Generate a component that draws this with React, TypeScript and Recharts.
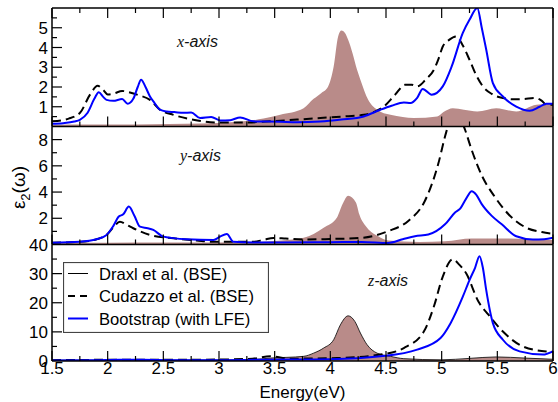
import React from "react";
import { ComposedChart, Area, Line, XAxis, YAxis, Legend } from "recharts";

type Pt = [number, number];

const WIDTH = 558;
const HEIGHT = 402;
const PLOT_RIGHT = 553;
const FONT = "'Liberation Sans', Arial, sans-serif";
const BROWN = "#b98b89";
const BLUE = "#0000ff";

const energyMajor = [1.5, 2, 2.5, 3, 3.5, 4, 4.5, 5, 5.5, 6];
const energyMinor = [1.75, 2.25, 2.75, 3.25, 3.75, 4.25, 4.75, 5.25, 5.75];

// x polarization
const draxlX: Pt[] = [
  [1.5, 0.08], [1.8, 0.1], [2.1, 0.1], [2.4, 0.12], [2.7, 0.14], [3.0, 0.18],
  [3.2, 0.25], [3.4, 0.4], [3.55, 0.6], [3.76, 0.93], [3.85, 1.4], [3.92, 1.7],
  [3.98, 2.03], [4.03, 3.04], [4.07, 4.56], [4.1, 4.86], [4.13, 4.75], [4.16, 4.39],
  [4.2, 3.7], [4.24, 2.87], [4.27, 2.37], [4.34, 1.35], [4.42, 0.85], [4.54, 0.59],
  [4.65, 0.48], [4.75, 0.43], [4.96, 0.51], [5.02, 0.75], [5.1, 0.93], [5.2, 0.85],
  [5.32, 0.76], [5.49, 0.93], [5.67, 0.76], [5.85, 1.1], [6.0, 1.15],
];
const cudazzoX: Pt[] = [
  [1.5, 0.26], [1.65, 0.4], [1.75, 0.68], [1.84, 1.6], [1.91, 2.06], [1.96, 1.85],
  [2.0, 1.62], [2.06, 1.68], [2.13, 1.8], [2.2, 1.72], [2.27, 1.6], [2.38, 1.35],
  [2.47, 0.85], [2.59, 0.59], [2.77, 0.34], [2.98, 0.2], [3.2, 0.2], [3.46, 0.26],
  [3.7, 0.35], [3.91, 0.43], [4.1, 0.5], [4.3, 0.59], [4.4, 0.75], [4.48, 1.01],
  [4.58, 1.6], [4.67, 2.11], [4.73, 2.12], [4.78, 2.03], [4.86, 2.4], [4.93, 2.87],
  [4.97, 3.4], [5.01, 4.05], [5.07, 4.4], [5.13, 4.56], [5.19, 4.1], [5.25, 3.38],
  [5.31, 2.6], [5.37, 2.03], [5.45, 1.65], [5.55, 1.44], [5.65, 1.38], [5.73, 1.39],
  [5.84, 1.44], [5.9, 1.3], [5.94, 1.1], [6.0, 1.1],
];
const bootX: Pt[] = [
  [1.5, 0.14], [1.6, 0.17], [1.7, 0.25], [1.75, 0.34], [1.82, 0.7], [1.88, 1.4],
  [1.92, 1.74], [1.96, 1.5], [1.99, 1.35], [2.05, 1.3], [2.13, 1.39], [2.18, 1.15],
  [2.23, 1.4], [2.27, 2.0], [2.3, 2.37], [2.34, 2.0], [2.38, 1.52], [2.42, 1.2],
  [2.47, 0.85], [2.53, 0.76], [2.6, 0.73], [2.68, 0.69], [2.75, 0.71], [2.83, 0.43],
  [2.93, 0.48], [3.01, 0.31], [3.1, 0.32], [3.19, 0.46], [3.31, 0.26], [3.55, 0.24],
  [3.7, 0.22], [3.91, 0.25], [4.1, 0.35], [4.3, 0.51], [4.45, 0.85], [4.55, 1.05],
  [4.66, 1.22], [4.72, 1.19], [4.78, 1.45], [4.83, 1.9], [4.91, 1.61], [5.01, 2.03],
  [5.09, 3.04], [5.19, 4.74], [5.25, 5.4], [5.32, 6.0], [5.36, 5.0], [5.4, 3.9],
  [5.46, 2.2], [5.55, 1.52], [5.67, 1.01], [5.79, 0.8], [5.88, 1.0], [5.94, 1.15],
  [6.0, 1.15],
];

// y polarization
const draxlY: Pt[] = [
  [1.5, 0.12], [2.0, 0.14], [2.5, 0.15], [3.0, 0.15], [3.46, 0.25], [3.76, 0.51],
  [3.94, 1.28], [4.06, 2.06], [4.11, 3.08], [4.16, 3.72], [4.23, 3.21], [4.26, 2.31],
  [4.33, 1.28], [4.43, 0.63], [4.52, 0.3], [4.8, 0.2], [5.03, 0.25], [5.27, 0.46],
  [5.52, 0.46], [5.8, 0.4], [6.0, 0.35],
];
const cudazzoY: Pt[] = [
  [1.5, 0.14], [1.75, 0.2], [1.9, 0.4], [1.99, 0.73], [2.05, 1.3], [2.11, 1.74],
  [2.17, 1.5], [2.23, 1.24], [2.38, 0.73], [2.59, 0.47], [2.8, 0.3], [2.95, 0.21],
  [3.31, 0.21], [3.4, 0.35], [3.49, 0.5], [3.6, 0.45], [3.76, 0.38], [4.0, 0.42],
  [4.28, 0.51], [4.52, 1.02], [4.7, 1.8], [4.85, 3.34], [4.97, 6.17], [5.03, 8.23],
  [5.08, 9.6], [5.13, 10.0], [5.17, 9.6], [5.21, 8.75], [5.27, 7.2], [5.36, 5.27],
  [5.48, 3.6], [5.6, 2.31], [5.76, 1.28], [5.9, 0.95], [6.0, 0.82],
];
const bootY: Pt[] = [
  [1.5, 0.14], [1.75, 0.21], [1.9, 0.4], [1.99, 0.73], [2.05, 1.4], [2.1, 2.13],
  [2.14, 2.3], [2.19, 2.89], [2.24, 2.2], [2.29, 1.36], [2.36, 1.24], [2.41, 1.11],
  [2.5, 0.6], [2.71, 0.4], [2.95, 0.35], [3.01, 0.6], [3.07, 0.8], [3.13, 0.21],
  [3.3, 0.15], [3.55, 0.15], [4.0, 0.18], [4.28, 0.2], [4.52, 0.12], [4.65, 0.4],
  [4.76, 0.63], [4.88, 0.76], [5.03, 1.54], [5.12, 2.44], [5.17, 2.78], [5.22, 3.5],
  [5.27, 4.06], [5.31, 3.8], [5.36, 3.08], [5.45, 2.18], [5.54, 1.54], [5.67, 0.63],
  [5.82, 0.38], [5.92, 0.4], [6.0, 0.51],
];

// z polarization
const draxlZ: Pt[] = [
  [1.5, 0.3], [2.0, 0.3], [2.5, 0.3], [3.0, 0.35], [3.3, 0.5], [3.46, 1.0],
  [3.76, 1.6], [3.85, 2.7], [3.94, 4.45], [4.03, 7.3], [4.09, 12.4], [4.16, 15.5],
  [4.22, 13.6], [4.27, 9.6], [4.33, 5.6], [4.42, 2.7], [4.54, 1.6], [4.66, 0.8],
  [5.0, 0.4], [5.25, 0.9], [5.49, 1.4], [5.75, 1.0], [6.0, 0.6],
];
const cudazzoZ: Pt[] = [
  [1.5, 0.3], [2.0, 0.4], [2.5, 0.4], [3.0, 0.5], [3.3, 0.8], [3.46, 1.6],
  [3.64, 0.8], [4.06, 1.0], [4.45, 2.2], [4.66, 4.45], [4.84, 10.1], [4.93, 18.7],
  [5.01, 29], [5.1, 34.9], [5.16, 33], [5.22, 30.1], [5.33, 20.4], [5.42, 15.9],
  [5.55, 10.1], [5.73, 5.0], [5.94, 3.3], [6.0, 3.2],
];
const bootZ: Pt[] = [
  [1.5, 0.2], [1.9, 0.3], [2.1, 0.45], [2.3, 0.45], [2.6, 0.3], [3.0, 0.3],
  [3.4, 0.45], [3.7, 0.5], [4.0, 0.6], [4.45, 1.6], [4.78, 3.9], [4.99, 7.9],
  [5.08, 13], [5.19, 22.1], [5.25, 27.8], [5.3, 32], [5.34, 36], [5.37, 32],
  [5.4, 24.4], [5.46, 13], [5.55, 7.3], [5.7, 3.3], [5.91, 2.2], [6.0, 3.3],
];

const NAMES = ["Draxl et al. (BSE)", "Cudazzo et al. (BSE)", "Bootstrap (with LFE)"];
const legendStyle: Record<string, { stroke: string; width: number; dash?: string }> = {
  [NAMES[0]]: { stroke: "#000", width: 1 },
  [NAMES[1]]: { stroke: "#000", width: 2, dash: "7 5" },
  [NAMES[2]]: { stroke: BLUE, width: 2 },
};

const rows = (pts: Pt[]) => pts.map(([e, v]) => ({ e, v }));
const noLabel = () => <g />;

const FRAME = { stroke: "#000", strokeWidth: 1.5 };
const TICK = { stroke: "#000", strokeWidth: 1.2 };
const LABEL = { fill: "#000", fontSize: 17, fontFamily: FONT };

function LegendBox({ payload }: any) {
  const items = [...(payload || [])].sort(
    (a: any, b: any) => NAMES.indexOf(a.value) - NAMES.indexOf(b.value)
  );
  return (
    <svg width={206} height={71} style={{ display: "block" }}>
      <rect x={0.5} y={0.5} width={205} height={70} fill="#fff" stroke="#444" strokeWidth={1.2} />
      {items.map((it: any, i: number) => {
        const s = legendStyle[it.value] || { stroke: "#000", width: 1 };
        const y = 11.5 + i * 22.5;
        return (
          <g key={it.value}>
            <line x1={5} x2={25} y1={y} y2={y} stroke={s.stroke} strokeWidth={s.width} strokeDasharray={s.dash} />
            <text x={36} y={y + 6} fontSize={16.6} fontFamily={FONT} fill="#000">
              {it.value}
            </text>
          </g>
        );
      })}
    </svg>
  );
}

interface PanelProps {
  top: number;
  bottom: number;
  yMax: number;
  yMajor: number[];
  yMinor: number[];
  yLabels: number[];
  draxl: Pt[];
  cudazzo: Pt[];
  boot: Pt[];
  outline?: boolean;
  topTicks?: boolean;
  energyLabels?: boolean;
  legend?: boolean;
}

function Panel(p: PanelProps) {
  const labelH = p.energyLabels ? HEIGHT - p.bottom : 0;
  const xDomain: [number, number] = [1.5, 6];
  const yDomain: [number, number] = [0, p.yMax];

  const xTickAxes = [
    { id: "e", orientation: "bottom", ticks: energyMajor, size: 10, line: true },
    { id: "eMinor", orientation: "bottom", ticks: energyMinor, size: 5, line: false },
  ];
  if (p.topTicks) {
    xTickAxes.push(
      { id: "eTop", orientation: "top", ticks: energyMajor, size: 10, line: true },
      { id: "eTopMinor", orientation: "top", ticks: energyMinor, size: 5, line: false }
    );
  }
  const yTickAxes = [
    { id: "v", orientation: "left", ticks: p.yMajor, size: 10, line: true, tickLine: true },
    { id: "vMinor", orientation: "left", ticks: p.yMinor, size: 5, line: false, tickLine: true },
    { id: "vRight", orientation: "right", ticks: p.yMajor, size: 0, line: true, tickLine: false },
  ];

  return (
    <div style={{ position: "absolute", left: 0, top: 0 }}>
      <ComposedChart
        width={WIDTH}
        height={HEIGHT}
        margin={{ top: p.top, right: WIDTH - PLOT_RIGHT, bottom: HEIGHT - p.bottom - labelH, left: 0 }}
      >
        {xTickAxes.map((a) => (
          <XAxis
            key={a.id}
            xAxisId={a.id}
            type="number"
            dataKey="e"
            domain={xDomain}
            allowDataOverflow
            orientation={a.orientation as "top" | "bottom"}
            mirror
            height={0.01}
            ticks={a.ticks}
            interval={0}
            tick={noLabel}
            tickSize={a.size}
            tickLine={TICK}
            axisLine={a.line ? FRAME : false}
            stroke="#000"
          />
        ))}
        {p.energyLabels && (
          <XAxis
            xAxisId="eLabel"
            type="number"
            dataKey="e"
            domain={xDomain}
            allowDataOverflow
            orientation="bottom"
            height={labelH}
            ticks={energyMajor}
            interval={0}
            tick={LABEL}
            tickSize={0}
            tickMargin={1}
            tickLine={false}
            axisLine={false}
            label={{ value: "Energy(eV)", position: "insideBottom", offset: 4, fill: "#000", fontSize: 17, fontFamily: FONT }}
          />
        )}
        {yTickAxes.map((a) => (
          <YAxis
            key={a.id}
            yAxisId={a.id}
            type="number"
            domain={yDomain}
            allowDataOverflow
            orientation={a.orientation as "left" | "right"}
            mirror
            width={0.01}
            ticks={a.ticks}
            interval={0}
            tick={noLabel}
            tickSize={a.size}
            tickLine={a.tickLine ? TICK : false}
            axisLine={a.line ? FRAME : false}
            stroke="#000"
          />
        ))}
        <YAxis
          yAxisId="vLabel"
          type="number"
          domain={yDomain}
          allowDataOverflow
          orientation="left"
          width={52}
          ticks={p.yLabels}
          interval={0}
          tick={LABEL}
          tickSize={0}
          tickMargin={4}
          tickLine={false}
          axisLine={false}
        />
        <Area
          xAxisId="e"
          yAxisId="v"
          data={rows(p.draxl)}
          dataKey="v"
          name={NAMES[0]}
          type="monotone"
          fill={BROWN}
          fillOpacity={1}
          stroke={p.outline ? "#000" : "none"}
          strokeWidth={0.8}
          dot={false}
          activeDot={false}
          isAnimationActive={false}
        />
        <Line
          xAxisId="e"
          yAxisId="v"
          data={rows(p.cudazzo)}
          dataKey="v"
          name={NAMES[1]}
          type="monotone"
          stroke="#000"
          strokeWidth={2}
          strokeDasharray="9 5"
          dot={false}
          activeDot={false}
          isAnimationActive={false}
        />
        <Line
          xAxisId="e"
          yAxisId="v"
          data={rows(p.boot)}
          dataKey="v"
          name={NAMES[2]}
          type="monotone"
          stroke={BLUE}
          strokeWidth={2}
          dot={false}
          activeDot={false}
          isAnimationActive={false}
        />
        {p.legend && (
          <Legend
            layout="vertical"
            align="center"
            verticalAlign="middle"
            content={<LegendBox />}
            wrapperStyle={{ left: 63, top: 262, width: 206, height: 71 }}
          />
        )}
      </ComposedChart>
    </div>
  );
}

function AxisTag({ x, y, letter }: { x: number; y: number; letter: string }) {
  return (
    <text x={x} y={y} fontSize={16} fill="#111">
      <tspan fontFamily="'Liberation Serif', serif" fontStyle="italic">{letter}</tspan>
      <tspan fontFamily={FONT} fontStyle="italic">-axis</tspan>
    </text>
  );
}

export default function App() {
  return (
    <div style={{ position: "absolute", left: 0, top: 0, width: WIDTH, height: HEIGHT, background: "#fff" }}>
      <Panel
        top={8}
        bottom={126.5}
        yMax={6}
        yMajor={[1, 2, 3, 4, 5]}
        yMinor={[0.5, 1.5, 2.5, 3.5, 4.5, 5.5]}
        yLabels={[1, 2, 3, 4, 5]}
        draxl={draxlX}
        cudazzo={cudazzoX}
        boot={bootX}
        topTicks
      />
      <Panel
        top={126.5}
        bottom={244.5}
        yMax={9}
        yMajor={[2, 4, 6, 8]}
        yMinor={[1, 3, 5, 7]}
        yLabels={[2, 4, 6, 8]}
        draxl={draxlY}
        cudazzo={cudazzoY}
        boot={bootY}
      />
      <Panel
        top={244.5}
        bottom={361}
        yMax={40}
        yMajor={[10, 20, 30]}
        yMinor={[5, 15, 25, 35]}
        yLabels={[0, 10, 20, 30, 40]}
        draxl={draxlZ}
        cudazzo={cudazzoZ}
        boot={bootZ}
        outline
        energyLabels
        legend
      />
      <svg
        width={WIDTH}
        height={HEIGHT}
        style={{ position: "absolute", left: 0, top: 0, pointerEvents: "none" }}
      >
        <AxisTag x={177} y={46.5} letter="x" />
        <AxisTag x={180} y={160.5} letter="y" />
        <AxisTag x={368} y={286} letter="z" />
        <text
          transform="translate(25,187.5) rotate(-90)"
          textAnchor="middle"
          fontFamily={FONT}
          fontSize={19}
          fill="#000"
        >
          ε<tspan fontSize={13} dy={5}>2</tspan>
          <tspan dy={-5}>(ω)</tspan>
        </text>
      </svg>
    </div>
  );
}
